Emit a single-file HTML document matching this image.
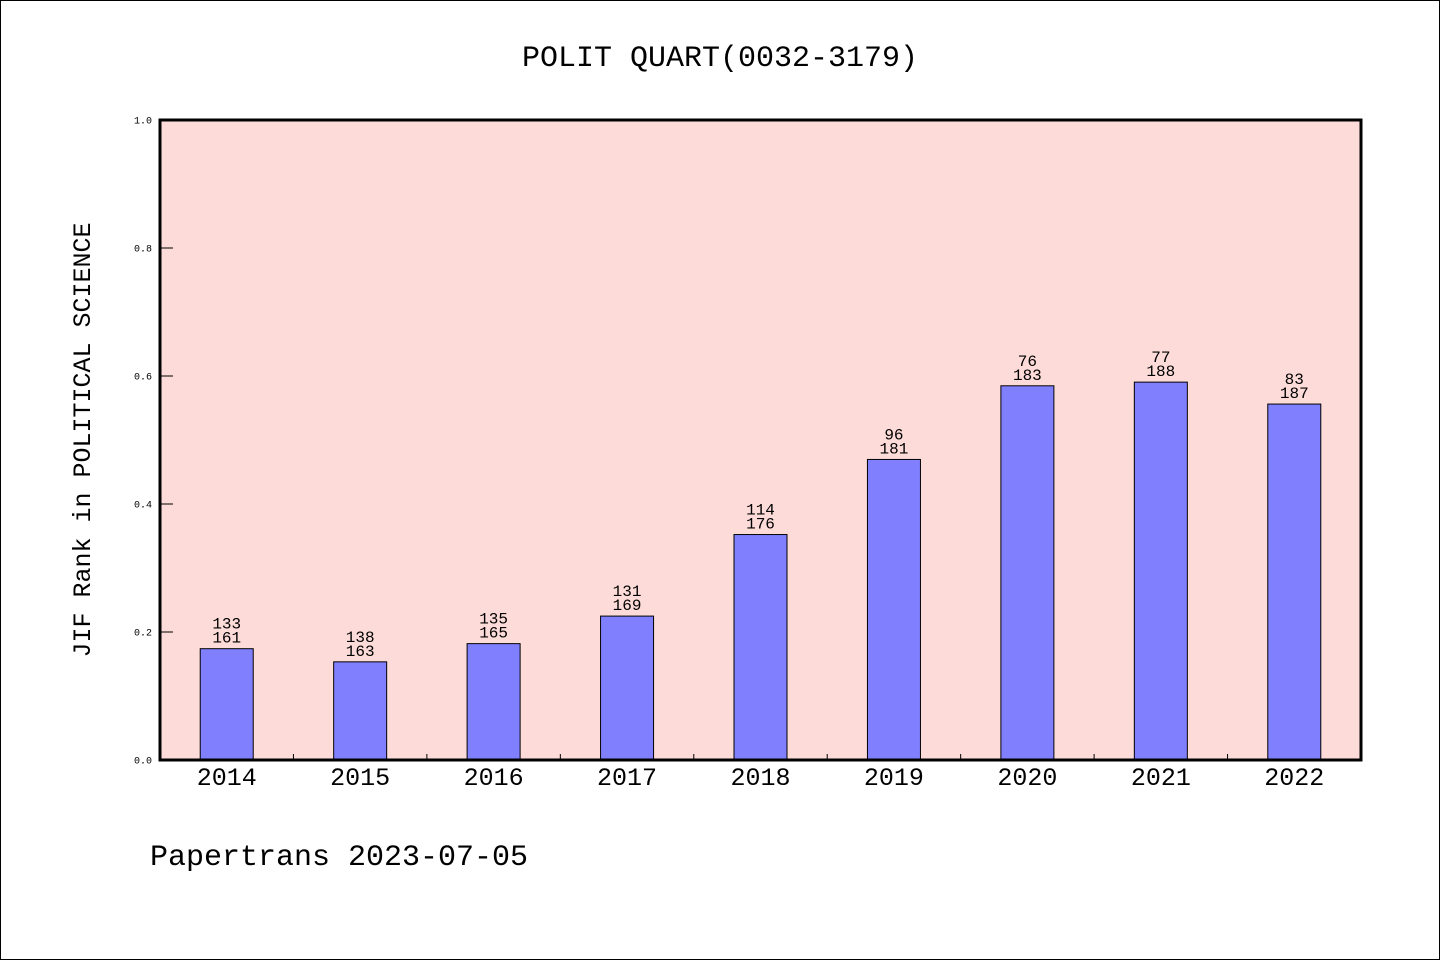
<!DOCTYPE html>
<html><head><meta charset="utf-8"><style>
body{margin:0;background:#fff}
svg text{font-family:"WenQuanYi Zen Hei","Liberation Mono",monospace;fill:#000}
</style></head><body>
<svg width="1440" height="960" xmlns="http://www.w3.org/2000/svg">
<rect x="0.5" y="0.5" width="1439" height="959" fill="#fff" stroke="#000"/>
<text x="720" y="66" font-size="30" text-anchor="middle">POLIT QUART(0032-3179)</text>
<rect x="160" y="120" width="1201" height="640" fill="#fddbd8"/>
<g id="bars"></g>
<rect x="160" y="120" width="1201" height="640" fill="none" stroke="#000" stroke-width="3"/>
<text transform="translate(90,440) rotate(-90)" font-size="25" text-anchor="middle">JIF Rank in POLITICAL SCIENCE</text>
<text x="150" y="865" font-size="30">Papertrans 2023-07-05</text>
<script>
const years=["2014","2015","2016","2017","2018","2019","2020","2021","2022"];
const ranks=[133,138,135,131,114,96,76,77,83];
const totals=[161,163,165,169,176,181,183,188,187];
const yTicks=["0.0","0.2","0.4","0.6","0.8","1.0"];
const NS="http://www.w3.org/2000/svg";
const L=160,R=1361,T=120,B=760;
const slot=(R-L)/years.length;
const y=v=>B-v*(B-T);
const xc=i=>L+slot*(i+0.5);
const svg=document.querySelector('svg');
const g=document.getElementById('bars');
function mk(t,a,p){const e=document.createElementNS(NS,t);for(const k in a)e.setAttribute(k,a[k]);(p||svg).appendChild(e);return e;}
years.forEach((yr,i)=>{
 const v=(totals[i]-ranks[i])/totals[i];
 const r=mk('rect',{x:xc(i)-26.5,y:y(v),width:53,height:B-y(v),fill:'#8080ff',stroke:'#000','stroke-width':1},g);
 
 
 const t1=mk('text',{x:xc(i),y:y(v)-20,'font-size':16,'text-anchor':'middle'},g);t1.textContent=ranks[i];
 
 
 const t2=mk('text',{x:xc(i),y:y(v)-6,'font-size':16,'text-anchor':'middle'},g);t2.textContent=totals[i];
 
 
 const xl=mk('text',{x:xc(i),y:785,'font-size':25,'text-anchor':'middle'});xl.textContent=yr;
 
 
 if(i>0){const tk=mk('line',{x1:L+slot*i,x2:L+slot*i,y1:B,y2:B-6,stroke:'#000'});
 
 }
});
yTicks.forEach((lab,i)=>{
 const v=parseFloat(lab);
 const tk=mk('line',{x1:L,x2:L+13,y1:y(v),y2:y(v),stroke:'#000'});
 
 
 const t=mk('text',{x:152,y:y(v)+3.5,'font-size':10,'text-anchor':'end'});t.textContent=lab;
 
 
});
</script>
</svg>
</body></html>
